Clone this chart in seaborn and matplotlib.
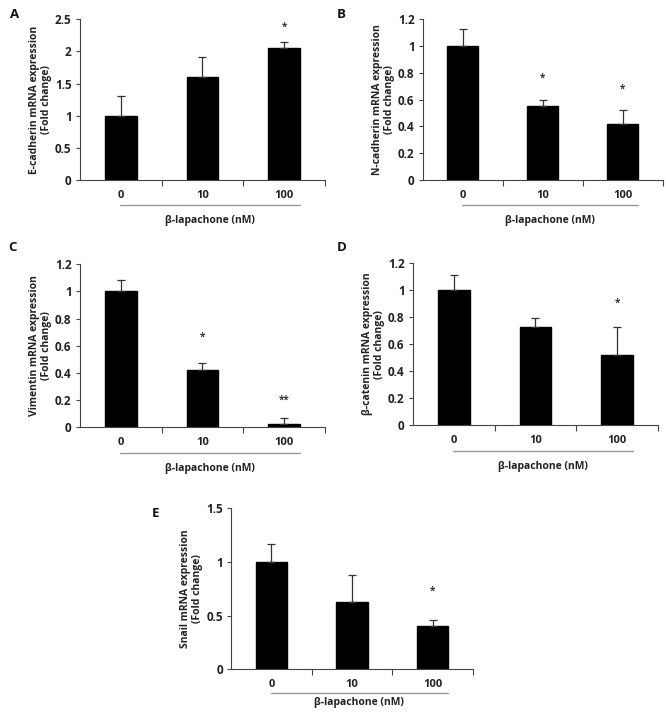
import numpy as np
import pandas as pd
from matplotlib import pyplot as plt
import seaborn as sns

doses = ["0", "10", "100"]

ecad_mean = [1.0, 1.6, 2.05]
ecad_err = [0.30, 0.31, 0.10]
ecad_star = ["", "", "*"]

ncad_mean = [1.0, 0.55, 0.42]
ncad_err = [0.13, 0.045, 0.10]
ncad_star = ["", "*", "*"]

vim_mean = [1.0, 0.42, 0.02]
vim_err = [0.08, 0.055, 0.05]
vim_star = ["", "*", "**"]

bcat_mean = [1.0, 0.73, 0.52]
bcat_err = [0.11, 0.06, 0.21]
bcat_star = ["", "", "*"]

snail_mean = [1.0, 0.63, 0.40]
snail_err = [0.17, 0.25, 0.06]
snail_star = ["", "", "*"]

sns.set_theme(style="white")
plt.rcParams['font.family'] = ['Open Sans', 'DejaVu Sans']

fig = plt.figure(figsize=(6.66, 7.12), dpi=100)


def draw_panel(rect, letter, letter_xy, means, errs, stars, star_y, ylabel, ymax, ystep,
               line_y=-0.155, label_y=-0.25):
    ax = fig.add_axes(rect)
    df = pd.DataFrame({"dose": doses, "value": means})
    sns.barplot(data=df, x="dose", y="value", color="black", width=0.39,
                edgecolor="black", errorbar=None, ax=ax, saturation=1)
    ax.errorbar(range(len(doses)), means, yerr=[[0] * len(errs), errs],
                fmt="none", ecolor="#333333", elinewidth=0.9, capsize=3, capthick=0.9)
    for i, s in enumerate(stars):
        if s:
            ax.text(i, star_y[i], s, ha="center", va="center", fontsize=7,
                    fontweight="bold", color="#333333")
    ax.set_xlim(-0.5, 2.5)
    ax.set_ylim(0, ymax)
    ticks = np.arange(0, ymax + 1e-9, ystep)
    ax.set_yticks(ticks)
    ax.set_yticklabels([f"{round(v, 1):g}" for v in ticks])
    ax.set_xticks(range(len(doses)))
    ax.set_xticks([0.5, 1.5, 2.5], minor=True)
    ax.tick_params(axis="x", which="major", length=0, labelsize=8, pad=7)
    ax.tick_params(axis="x", which="minor", length=4, width=0.8, color="#444444",
                   direction="out", bottom=True)
    ax.tick_params(axis="y", length=3, width=0.8, color="#444444", direction="out",
                   left=True, labelsize=8.5, pad=3)
    for lab in ax.get_xticklabels() + ax.get_yticklabels():
        lab.set_fontweight("bold")
        lab.set_color("#222222")
    sns.despine(ax=ax)
    for sp in ["left", "bottom"]:
        ax.spines[sp].set_color("#444444")
        ax.spines[sp].set_linewidth(0.8)
    ax.set_xlabel("")
    ax.set_ylabel(ylabel, fontsize=7.5, fontweight="bold", color="#222222", labelpad=2,
                  linespacing=1.1)
    ax.plot([0.163, 0.898], [line_y, line_y], transform=ax.transAxes,
            color="#999999", lw=1.0, clip_on=False)
    ax.text(0.53, label_y, "β-lapachone (nM)", transform=ax.transAxes, ha="center",
            va="center", fontsize=7.5, fontweight="bold", color="#222222")
    fig.text(letter_xy[0], letter_xy[1], letter, fontsize=9.5, fontweight="bold",
             ha="left", va="center", color="#111111")
    return ax


draw_panel([0.120, 0.747, 0.368, 0.226], "A", (0.015, 0.980), ecad_mean, ecad_err,
           ecad_star, [0, 0, 2.38], "E-cadherin mRNA expression\n(Fold change)", 2.5, 0.5)
draw_panel([0.635, 0.747, 0.360, 0.226], "B", (0.505, 0.980), ncad_mean, ncad_err,
           ncad_star, [0, 0.76, 0.68], "N-cadherin mRNA expression\n(Fold change)", 1.2, 0.2)
draw_panel([0.120, 0.400, 0.368, 0.229], "C", (0.013, 0.653), vim_mean, vim_err,
           vim_star, [0, 0.66, 0.20], "Vimentin mRNA expression\n(Fold change)", 1.2, 0.2,
           -0.16, -0.255)
draw_panel([0.620, 0.403, 0.368, 0.2275], "D", (0.505, 0.653), bcat_mean, bcat_err,
           bcat_star, [0, 0, 0.90], "β-catenin mRNA expression\n(Fold change)", 1.2, 0.2,
           -0.16, -0.255)
draw_panel([0.347, 0.060, 0.363, 0.226], "E", (0.228, 0.279), snail_mean, snail_err,
           snail_star, [0, 0, 0.73], "Snail mRNA expression\n(Fold change)", 1.5, 0.5,
           -0.15, -0.205)

plt.savefig("out.png", dpi=100)
